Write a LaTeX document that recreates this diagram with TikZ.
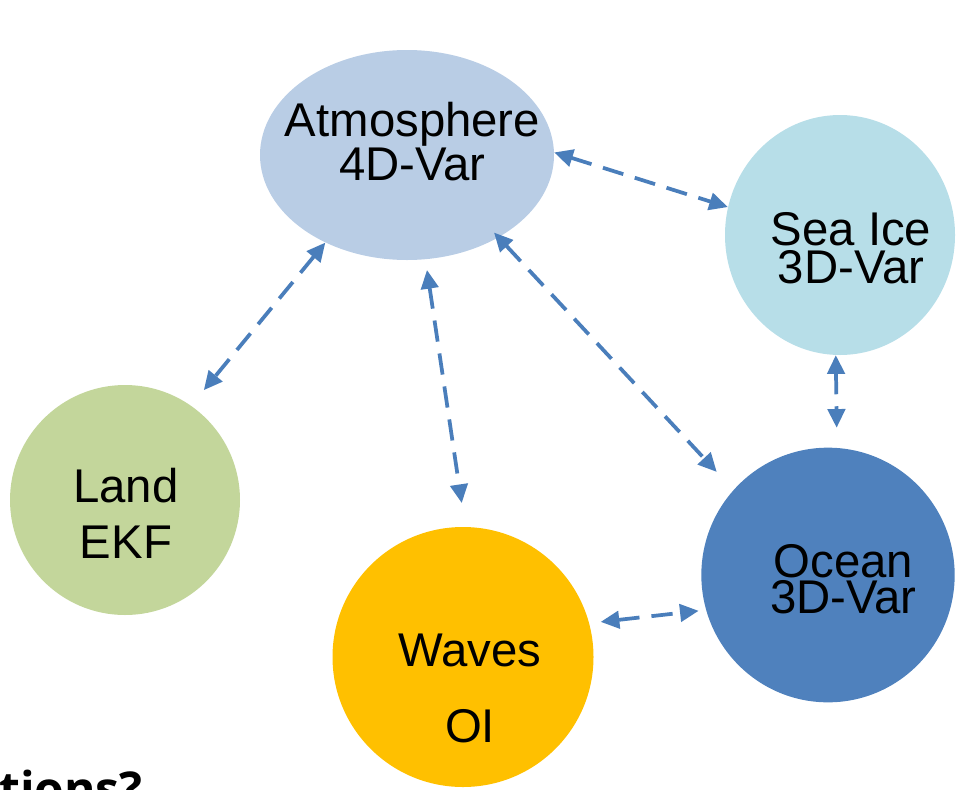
\documentclass[tikz,border=0pt]{standalone}
\usepackage{fontspec}
\setmainfont{Liberation Sans}
\newfontfamily\qfont{Open Sans}
\usetikzlibrary{shapes.geometric,arrows.meta}
\definecolor{atmocol}{HTML}{B9CDE5}
\definecolor{icecol}{HTML}{B7DEE8}
\definecolor{landcol}{HTML}{C3D69B}
\definecolor{wavecol}{HTML}{FFC000}
\definecolor{oceancol}{HTML}{4F81BD}
\definecolor{linkcol}{HTML}{4A7EBB}
\tikzset{
  compnode/.style={ellipse,inner sep=0pt,draw=none},
  lbl/.style={anchor=base,inner sep=0pt,align=center},
  link/.style={draw=linkcol,line width=2.8pt,dash pattern=on 16pt off 9pt,
    {Triangle[length=14pt,width=13pt]}-{Triangle[length=14pt,width=13pt]}}
}
\begin{document}
\begin{tikzpicture}[x=0.75pt,y=-0.75pt]
\useasboundingbox (0,0) rectangle (956,789);
\clip (0,0) rectangle (956,789);
\node[compnode,fill=atmocol,minimum width=220.5pt,minimum height=157.5pt](atmo) at (407,155){};
\node[compnode,fill=icecol,minimum width=172.5pt,minimum height=180pt](seaice) at (840,235){};
\node[compnode,fill=landcol,minimum width=172.5pt,minimum height=172.5pt](land) at (125,500){};
\node[compnode,fill=wavecol,minimum width=195.75pt,minimum height=195pt](waves) at (463,657){};
\node[compnode,fill=oceancol,minimum width=190pt,minimum height=191pt](ocean) at (828,575){};
\node[lbl,font=\fontsize{35.5}{30}\selectfont](atmotext) at (412.5,180){Atmosphere\\4D-Var};
\node[lbl,font=\fontsize{35.5}{28.5}\selectfont](icetext) at (851,283){Sea Ice\\3D-Var};
\node[lbl,font=\fontsize{35.5}{41.3}\selectfont](landtext) at (126,558){Land\\EKF};
\node[lbl,font=\fontsize{35.5}{56.3}\selectfont](wavetext) at (470,742){Waves\\OI};
\node[lbl,font=\fontsize{35.5}{27}\selectfont](oceantext) at (843.5,613){Ocean\\3D-Var};
\node[anchor=base west,inner sep=0pt,font=\qfont\bfseries\fontsize{36}{40}\selectfont](question) at (-1,806){tions?};
\path (atmo.1) edge[link] (seaice.166);
\path (atmo.227) edge[link,shorten >=15pt] (land.55);
\path (atmo.280) edge[link,shorten <=8pt,shorten >=18pt] (waves.89);
\path (atmo.318) edge[link,shorten <=-5pt,shorten >=18.4pt] (ocean.138);
\path (seaice.268) edge[link,shorten >=15pt] (ocean.86);
\path (waves.15) edge[link,shorten <=8.6pt,shorten >=5.5pt] (ocean.196.6);
\end{tikzpicture}
\end{document}
